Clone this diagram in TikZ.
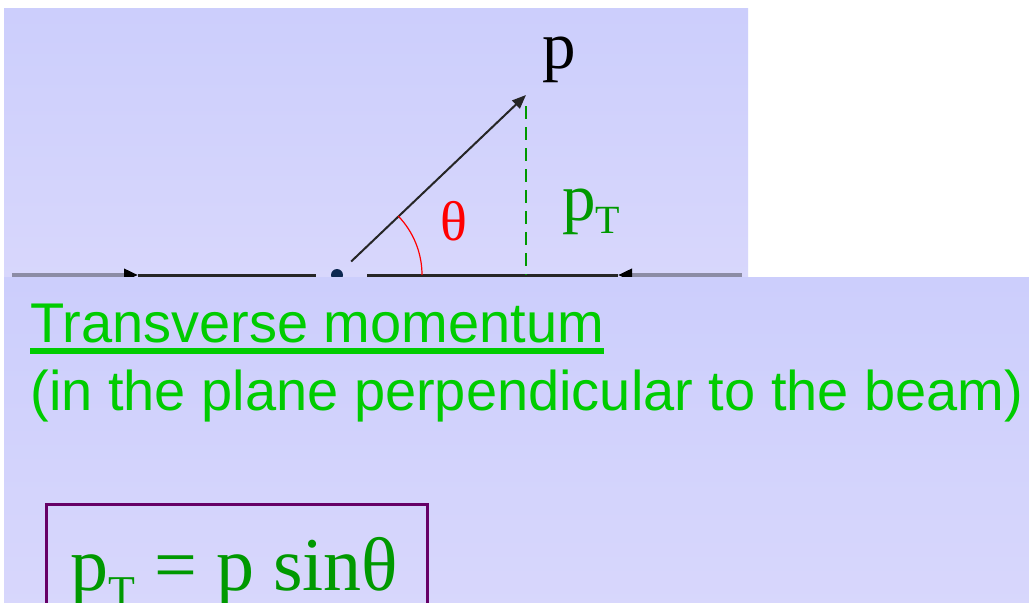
\documentclass[tikz,border=0pt]{standalone}
\usepackage{fontspec}
\setmainfont{Liberation Serif}
\newfontfamily\arialfont{Liberation Sans}
\usetikzlibrary{arrows.meta,calc}

\definecolor{ptgreen}{RGB}{0,153,0}
\definecolor{txtgreen}{RGB}{0,204,0}
\definecolor{boxpurple}{RGB}{102,0,102}
\definecolor{dotblue}{RGB}{12,40,80}
\definecolor{beamgray}{RGB}{140,140,165}
\definecolor{bgtop}{RGB}{204,206,252}
\definecolor{bgbot}{RGB}{216,215,252}
\newcommand{\lowsub}[3]{\raisebox{-#1}{\fontsize{#2}{#2}\selectfont #3}}

\begin{document}
\begin{tikzpicture}[
    x=0.5pt, y=0.5pt,
    every node/.style={inner sep=0pt, anchor=base west},
    arr/.style={-{Triangle[length=7pt,width=5.5pt]}, line width=1pt, black!85},
    beam/.style={line width=1.5pt, black!85},
    feed/.style={line width=2.5pt, beamgray, -{Triangle[length=7pt,width=6pt,color=black]}},
    panel/.style={top color=bgtop, bottom color=bgbot},
]
    \useasboundingbox (0,0) rectangle (1029,602);
    \clip (0,0) rectangle (1029,602);
    \fill[white] (0,0) rectangle (1029,602);
    % upper panel
    \fill[panel] (4,320) rectangle (748,594);
    \coordinate (lbeam) at (12,327);
    \coordinate (lin) at (138,327);
    \coordinate (lgap) at (316,327);
    \coordinate (dot) at (337,327);
    \coordinate (rgap) at (367,327);
    \coordinate (foot) at (526,327);
    \coordinate (rin) at (618,327);
    \coordinate (rbeam) at (742,327);
    \coordinate (tip) at (526,507);
    \coordinate (ptop) at (526,496);
    \draw[feed] (lbeam) -- (lin);
    \draw[feed] (rbeam) -- (rin);
    \draw[beam] (lin) -- (lgap);
    \draw[beam] (rgap) -- (rin);
    \fill[dotblue] (dot) circle[radius=3pt];
    \draw[arr] ($(dot)!0.075!(tip)$) -- (tip);
    \draw[ptgreen, line width=0.8pt, dash pattern=on 6.5pt off 4pt] (ptop) -- (foot);
    \draw[red, line width=0.6pt] ($(dot)+(85,0)$) arc[start angle=0, end angle=44, radius=42.5pt];
    \node[font=\fontsize{33.5}{40}\selectfont] (plabel) at (542,534) {p};
    \node[font=\fontsize{28}{34}\selectfont, text=red] (theta) at (440,362) {θ};
    \node[font=\fontsize{33.5}{40}\selectfont, text=ptgreen] (ptlabel) at (562,382)
        {p\lowsub{6.5pt}{20pt}{T}};
    % lower panel
    \fill[panel] (4,-10) rectangle (1029,324.5);
    \node[font=\arialfont\fontsize{28}{34}\selectfont, text=txtgreen] (title) at (30,260)
        {Transverse momentum};
    \draw[txtgreen, line width=3pt]
        ([yshift=-4.5pt]title.base west) -- ([yshift=-4.5pt]title.base east);
    \node[font=\arialfont\fontsize{28}{34}\selectfont, text=txtgreen] (plane) at (30,192)
        {(in the plane perpendicular to the beam)};
    \draw[boxpurple, line width=1.5pt] (46,-20) rectangle (427,98);
    \node[font=\fontsize{38}{45}\selectfont, text=ptgreen] (formula) at (70,12)
        {p\lowsub{8pt}{22pt}{T} = p sinθ};
\end{tikzpicture}
\end{document}
